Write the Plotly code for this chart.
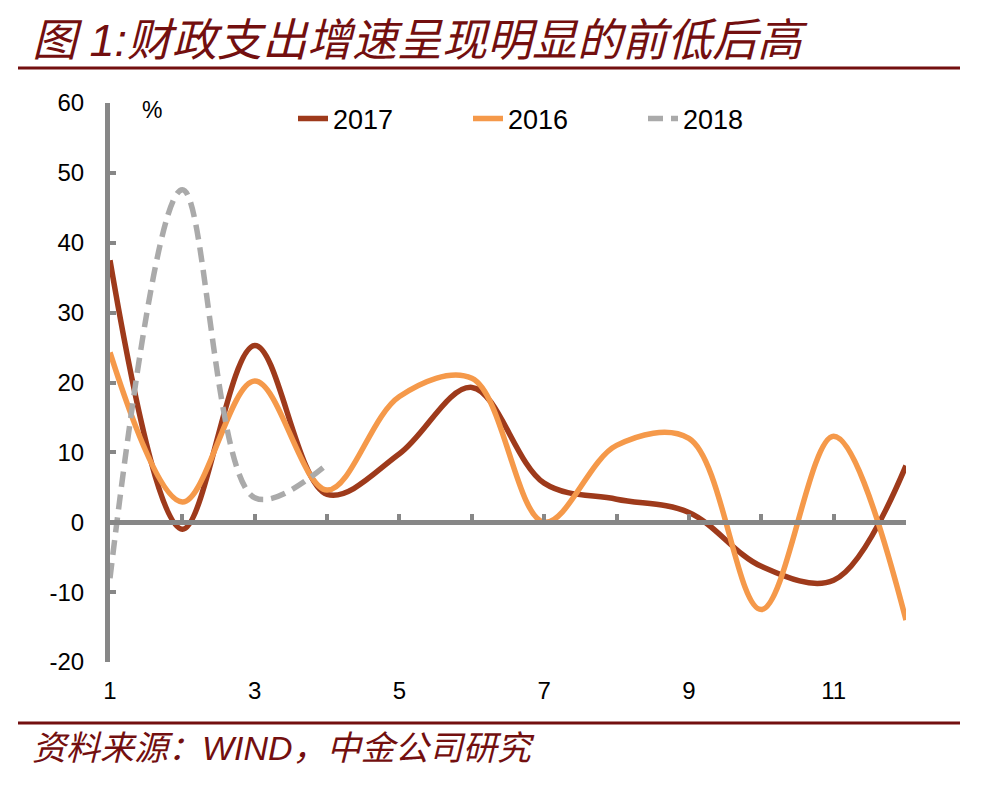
import plotly.graph_objects as go

# ---- data ----
months = [1, 2, 3, 4, 5, 6, 7, 8, 9, 10, 11, 12]
y2017 = [37.5, -1.0, 25.3, 4.0, 9.8, 19.3, 5.6, 3.3, 1.4, -6.3, -8.3, 8.1]
y2016 = [24.3, 2.9, 20.2, 4.6, 18.0, 20.6, 0.0, 11.0, 12.0, -12.5, 12.3, -14.0]
months_2018 = [1, 2, 3, 4]
y2018 = [-8.0, 47.6, 3.5, 8.3]
x_tick_vals = [1, 3, 5, 7, 9, 11]
x_tick_text = ["1", "3", "5", "7", "9", "11"]
y_tick_vals = [-20, -10, 0, 10, 20, 30, 40, 50, 60]
y_tick_text = ["-20", "-10", "0", "10", "20", "30", "40", "50", "60"]

title_text = "图 1:财政支出增速呈现明显的前低后高"
source_text = "资料来源：WIND，中金公司研究"

AX = "#878787"
RED = "#730F0F"
FONT = "Liberation Sans, Arial, Noto Sans CJK SC"

W, H = 1001, 790
L, R, T, B = 110, 95, 103, 128
PW, PH = W - L - R, H - T - B


def px(x):
    return (x - L) / PW


def py(y):
    return (H - B - y) / PH


fig = go.Figure()
fig.add_trace(go.Scatter(x=months, y=y2017, name="2017", mode="lines",
                         line=dict(color="#9E3A1B", width=5.5, shape="spline", smoothing=1)))
fig.add_trace(go.Scatter(x=months, y=y2016, name="2016", mode="lines",
                         line=dict(color="#F5994A", width=5.5, shape="spline", smoothing=1)))
fig.add_trace(go.Scatter(x=months_2018, y=y2018, name="2018", mode="lines",
                         line=dict(color="#AAAAAA", width=5.5, shape="spline", smoothing=1,
                                   dash="15px,8px")))
# helper trace to bind label axis
fig.add_trace(go.Scatter(x=[months[0], months[-1]], y=[None, None], xaxis="x2",
                         showlegend=False, hoverinfo="skip", mode="lines"))

fig.update_layout(
    width=W, height=H,
    margin=dict(l=L, r=R, t=T, b=B, pad=0),
    paper_bgcolor="white", plot_bgcolor="white",
    font=dict(family=FONT, color="black"),
    showlegend=True,
    legend=dict(orientation="h", x=px(293), y=py(119), xanchor="left", yanchor="middle",
                font=dict(size=27, family=FONT, color="black"),
                entrywidth=130, entrywidthmode="pixels",
                bgcolor="rgba(0,0,0,0)", traceorder="normal"),
    xaxis=dict(range=[1, 12], anchor="free", position=0.25, showline=True,
               linecolor=AX, linewidth=5, ticks="inside", ticklen=6, tickwidth=4,
               tickcolor=AX, tick0=1, dtick=1, showticklabels=False,
               showgrid=False, zeroline=False),
    xaxis2=dict(range=[1, 12], overlaying="x", anchor="y", side="bottom",
                showline=False, ticks="", tickvals=x_tick_vals, ticktext=x_tick_text,
                tickfont=dict(size=24, family=FONT, color="black"),
                showgrid=False, zeroline=False, ticklabelstandoff=12),
    yaxis=dict(range=[-20, 60], tickvals=y_tick_vals, ticktext=y_tick_text,
               showline=True, linecolor=AX, linewidth=5, ticks="inside",
               ticklen=6, tickwidth=4, tickcolor=AX,
               tickfont=dict(size=24, family=FONT, color="black"),
               showgrid=False, zeroline=False, ticklabelstandoff=16),
)

fig.add_annotation(xref="paper", yref="paper", x=px(30), y=py(40), xanchor="left",
                   yanchor="middle", text="<i>" + title_text + "</i>", showarrow=False,
                   font=dict(size=45, color=RED, family=FONT))
fig.add_annotation(xref="paper", yref="paper", x=px(30), y=py(748), xanchor="left",
                   yanchor="middle", text="<i>" + source_text + "</i>", showarrow=False,
                   font=dict(size=34, color=RED, family=FONT))
fig.add_annotation(xref="paper", yref="paper", x=px(152), y=py(110), xanchor="center",
                   yanchor="middle", text="%", showarrow=False,
                   font=dict(size=23, color="black", family=FONT))

fig.add_shape(type="line", xref="paper", yref="paper", x0=px(18), x1=px(960),
              y0=py(68), y1=py(68), line=dict(color=RED, width=3))
fig.add_shape(type="line", xref="paper", yref="paper", x0=px(18), x1=px(960),
              y0=py(723), y1=py(723), line=dict(color=RED, width=3))

fig.write_html("out.html")
